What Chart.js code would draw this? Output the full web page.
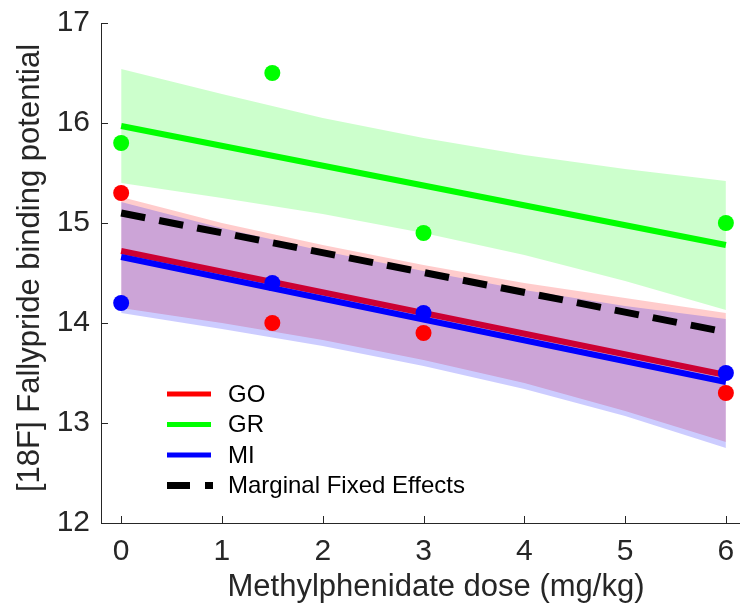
<!DOCTYPE html>
<html>
<head>
<meta charset="utf-8">
<script src="https://cdn.jsdelivr.net/npm/chart.js@4"></script>
<style>
  html, body { margin: 0; padding: 0; background: #fff; }
  #wrap { width: 740px; height: 604px; }
</style>
</head>
<body>
<div id="wrap"><canvas id="chart" width="740" height="604"></canvas></div>
<script>
// measured points per group
const doses = [0, 1.5, 3, 6]
const goPoints = [15.3, 14.0, 13.9, 13.3]
const grPoints = [15.8, 16.5, 14.9, 15.0]
const miPoints = [14.2, 14.4, 14.1, 13.5]

// fitted lines (ends at dose 0 and 6)
const fitX = [0, 6]
const goFit = [14.72, 13.48]
const grFit = [15.97, 14.78]
const miFit = [14.66, 13.41]
const fixedFit = [15.10, 13.91]

// confidence bands
const bandX = [0, 1, 2, 3, 4, 5, 6]
const grUpper = [16.54, 16.29, 16.05, 15.85, 15.68, 15.54, 15.42]
const grLower = [15.40, 15.25, 15.09, 14.90, 14.68, 14.42, 14.13]
const goUpper = [15.26, 15.00, 14.78, 14.58, 14.40, 14.25, 14.10]
const goLower = [14.15, 14.00, 13.83, 13.63, 13.40, 13.12, 12.81]
const miUpper = [15.21, 14.95, 14.72, 14.52, 14.33, 14.17, 14.04]
const miLower = [14.10, 13.94, 13.77, 13.57, 13.34, 13.07, 12.75]

const xTicks = [0, 1, 2, 3, 4, 5, 6]
const yTicks = [12, 13, 14, 15, 16, 17]

const xTitle = 'Methylphenidate dose (mg/kg)'
const yTitle = '[18F] Fallypride binding potential'

const FONT = '"Liberation Sans", Arial, Helvetica, sans-serif'
const INK = '#262626'

const pts = (xs, ys) => xs.map((x, i) => ({ x: x, y: ys[i] }))

function band(upper, lower, color, order) {
  return [
    { data: pts(bandX, upper), showLine: true, borderWidth: 0, pointRadius: 0,
      backgroundColor: color, fill: '+1', order: order },
    { data: pts(bandX, lower), showLine: true, borderWidth: 0, pointRadius: 0,
      backgroundColor: color, fill: false, order: order }
  ]
}

function fitLine(ys, color, order, dash) {
  return { data: pts(fitX, ys), showLine: true, borderColor: color, borderWidth: dash ? 7 : 6,
    borderDash: dash || [], borderCapStyle: 'butt', pointRadius: 0, fill: false, order: order }
}

function dots(ys, color) {
  return { data: pts(doses, ys), showLine: false, pointRadius: 8, pointHoverRadius: 8,
    backgroundColor: color, borderWidth: 0, order: 0, clip: false }
}

// inward tick marks + axis titles, MATLAB style
const axisDecor = {
  id: 'axisDecor',
  afterDraw(chart) {
    const { ctx, chartArea: a, scales: { x, y } } = chart
    ctx.save()
    ctx.strokeStyle = INK
    ctx.lineWidth = 1
    ctx.beginPath()
    xTicks.forEach(v => {
      const px = Math.round(x.getPixelForValue(v)) + 0.5
      ctx.moveTo(px, a.bottom); ctx.lineTo(px, a.bottom - 7)
    })
    yTicks.forEach(v => {
      const py = Math.round(y.getPixelForValue(v)) + 0.5
      ctx.moveTo(a.left, py); ctx.lineTo(a.left + 7, py)
    })
    ctx.stroke()

    ctx.fillStyle = INK
    ctx.font = '31px ' + FONT
    ctx.textAlign = 'center'
    ctx.textBaseline = 'middle'
    ctx.fillText(xTitle, 436, 587)
    ctx.translate(30, 268)
    ctx.rotate(-Math.PI / 2)
    ctx.fillText(yTitle, 0, 0)
    ctx.restore()
  }
}

const legendItems = [
  { label: 'GO', color: '#ff0000' },
  { label: 'GR', color: '#00ff00' },
  { label: 'MI', color: '#0000ff' },
  { label: 'Marginal Fixed Effects', color: '#000000', dashed: true }
]

const insideLegend = {
  id: 'insideLegend',
  afterDraw(chart) {
    const { ctx } = chart
    ctx.save()
    ctx.font = '24px ' + FONT
    ctx.textBaseline = 'middle'
    legendItems.forEach((it, i) => {
      const y = 394 + i * 30.5
      ctx.strokeStyle = it.color
      ctx.lineWidth = it.dashed ? 7 : 5
      ctx.beginPath()
      if (it.dashed) {
        ctx.moveTo(167, y); ctx.lineTo(190, y)
        ctx.moveTo(205, y); ctx.lineTo(213, y)
      } else {
        ctx.moveTo(167, y); ctx.lineTo(211, y)
      }
      ctx.stroke()
      ctx.fillStyle = '#000'
      ctx.fillText(it.label, 228, y + 1)
    })
    ctx.restore()
  }
}

new Chart(document.getElementById('chart'), {
  type: 'scatter',
  data: {
    datasets: [
      dots(goPoints, '#ff0000'),
      dots(grPoints, '#00ff00'),
      dots(miPoints, '#0000ff'),
      fitLine(fixedFit, '#000000', 1, [24.5, 14.2]),
      fitLine(miFit, '#0000ff', 2),
      ...band(miUpper, miLower, 'rgba(0,0,255,0.2)', 3),
      fitLine(goFit, '#ff0000', 4),
      ...band(goUpper, goLower, 'rgba(255,0,0,0.2)', 5),
      fitLine(grFit, '#00ff00', 6),
      ...band(grUpper, grLower, 'rgba(0,255,0,0.2)', 7)
    ]
  },
  options: {
    responsive: false,
    animation: false,
    layout: { autoPadding: false, padding: { top: 23, right: 0, bottom: 0, left: 0 } },
    plugins: { legend: { display: false }, tooltip: { enabled: false } },
    scales: {
      x: {
        type: 'linear',
        min: -0.2,
        max: 6.14,
        afterBuildTicks: s => { s.ticks = xTicks.map(v => ({ value: v })) },
        afterFit: s => { s.height = 81; s.paddingLeft = 0; s.paddingRight = 0 },
        grid: { display: false, drawTicks: false },
        border: { display: true, color: INK, width: 1 },
        ticks: { color: INK, font: { family: FONT, size: 30 }, padding: 11 },
        title: { display: false }
      },
      y: {
        type: 'linear',
        min: 12,
        max: 17,
        afterBuildTicks: s => { s.ticks = yTicks.map(v => ({ value: v })) },
        afterFit: s => { s.width = 101; s.paddingTop = 0; s.paddingBottom = 0 },
        grid: { display: false, drawTicks: false },
        border: { display: true, color: INK, width: 1 },
        ticks: { color: INK, font: { family: FONT, size: 30 }, padding: 11 },
        title: { display: false }
      }
    }
  },
  plugins: [axisDecor, insideLegend]
})
</script>
</body>
</html>
